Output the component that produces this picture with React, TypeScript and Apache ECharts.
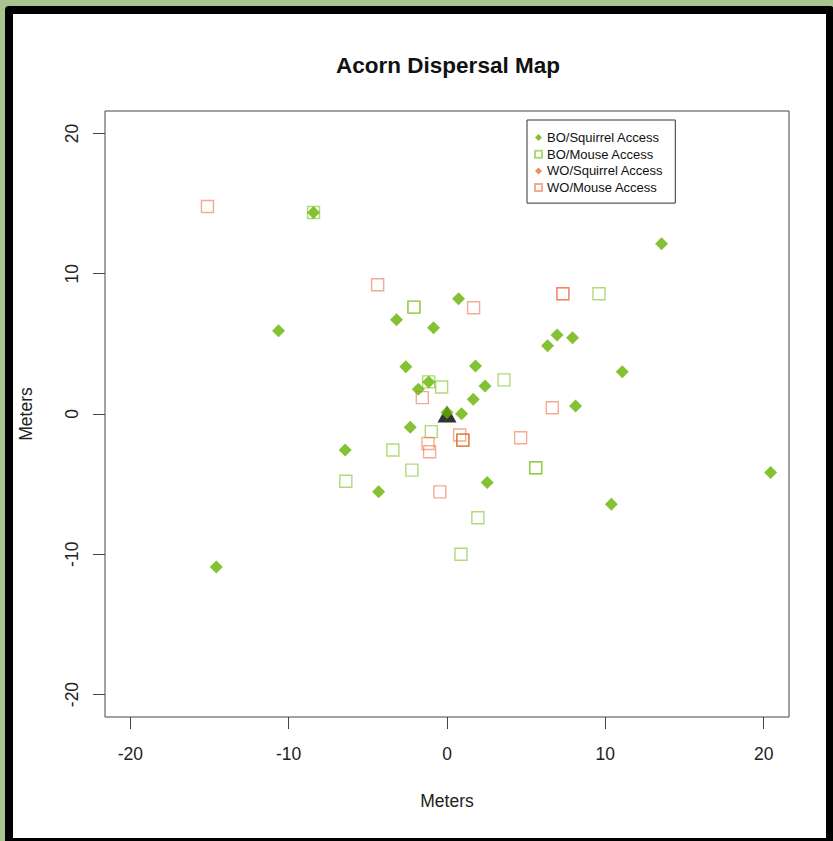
import React, { useEffect, useRef } from "react";
import * as echarts from "echarts";

const xTicks = [-20, -10, 0, 10, 20];
const yTicks = [-20, -10, 0, 10, 20];
const seriesNames = ["BO/Squirrel Access", "BO/Mouse Access", "WO/Squirrel Access", "WO/Mouse Access"];

const boSquirrel: [number, number][] = [
  [-8.43, 14.36], [-10.64, 5.93], [-3.19, 6.71], [-0.85, 6.14], [0.73, 8.21],
  [13.55, 12.14], [6.95, 5.64], [7.93, 5.43], [6.35, 4.86], [11.07, 3.02],
  [8.12, 0.57], [-2.6, 3.36], [1.8, 3.43], [2.4, 2.0], [1.66, 1.05],
  [-1.81, 1.76], [-1.16, 2.29], [0.0, 0.1], [0.92, 0.02], [-2.32, -0.95],
  [-6.43, -2.57], [-4.32, -5.55], [2.54, -4.88], [10.38, -6.43], [20.44, -4.17],
  [-14.57, -10.9],
];
const boMouse: [number, number][] = [
  [-8.43, 14.36], [-2.09, 7.62], [-2.09, 7.62], [9.6, 8.57], [3.6, 2.43],
  [-1.16, 2.29], [-0.34, 1.93], [-0.99, -1.26], [-3.42, -2.57], [-2.22, -4.0],
  [-6.39, -4.79], [5.6, -3.83], [5.6, -3.83], [1.95, -7.4], [0.88, -10.0],
  [1.0, -1.86],
];
const woSquirrel: [number, number][] = [];
const woMouse: [number, number][] = [
  [-15.13, 14.79], [-4.38, 9.21], [1.68, 7.57], [7.32, 8.57], [7.32, 8.57],
  [-1.56, 1.17], [6.65, 0.45], [4.65, -1.69], [0.8, -1.5], [1.0, -1.86],
  [1.0, -1.86], [-1.2, -2.1], [-1.1, -2.69], [-0.45, -5.55],
];
const originPoint: [number, number][] = [[0, 0]];

const FONT = "'Liberation Sans', Arial, Helvetica, sans-serif";

export default function App() {
  const ref = useRef<HTMLDivElement>(null);
  useEffect(() => {
    if (!ref.current) return;
    const chart = echarts.init(ref.current, null, { renderer: "svg" });
    chart.setOption({
      animation: false,
      backgroundColor: "transparent",
      title: {
        text: "Acorn Dispersal Map",
        left: 443,
        textAlign: "center",
        top: 49,
        textStyle: { fontFamily: FONT, fontSize: 22.5, fontWeight: "bold", color: "#111" },
      },
      grid: {
        left: 105,
        top: 111,
        width: 684,
        height: 606,
        show: true,
        borderColor: "#444",
        borderWidth: 1,
        backgroundColor: "transparent",
      },
      legend: {
        orient: "vertical",
        left: 527,
        top: 120,
        data: seriesNames,
        itemWidth: 7,
        itemHeight: 7,
        itemGap: 3.7,
        padding: [11, 12, 9, 7],
        borderColor: "#333",
        borderWidth: 1,
        textStyle: { fontFamily: FONT, fontSize: 13, color: "#111" },
      },
      xAxis: {
        type: "value",
        min: -21.6,
        max: 21.6,
        name: "Meters",
        nameLocation: "middle",
        nameGap: 75,
        nameTextStyle: { fontFamily: FONT, fontSize: 17.5, color: "#222" },
        axisLine: { show: false, onZero: false },
        axisTick: { show: true, length: 12, customValues: xTicks, lineStyle: { color: "#444" } },
        axisLabel: { customValues: xTicks, margin: 28, fontFamily: FONT, fontSize: 17.5, color: "#222" },
        splitLine: { show: false },
      },
      yAxis: {
        type: "value",
        min: -21.6,
        max: 21.6,
        name: "Meters",
        nameLocation: "middle",
        nameGap: 70,
        nameTextStyle: { fontFamily: FONT, fontSize: 17.5, color: "#222" },
        axisLine: { show: false, onZero: false },
        axisTick: { show: true, length: 12, customValues: yTicks, lineStyle: { color: "#444" } },
        axisLabel: { customValues: yTicks, rotate: 90, margin: 24, fontFamily: FONT, fontSize: 17.5, color: "#222" },
        splitLine: { show: false },
      },
      series: [
        {
          name: "origin",
          type: "scatter",
          data: originPoint,
          symbol: "triangle",
          symbolSize: [19, 17],
          itemStyle: { color: "#000" },
          z: 1,
        },
        {
          name: seriesNames[1],
          type: "scatter",
          data: boMouse,
          symbol: "rect",
          symbolSize: 12,
          itemStyle: { color: "transparent", borderColor: "#7cc21c", borderWidth: 1.4, opacity: 0.6 },
          z: 2,
        },
        {
          name: seriesNames[3],
          type: "scatter",
          data: woMouse,
          symbol: "rect",
          symbolSize: 12,
          itemStyle: { color: "transparent", borderColor: "#f0643a", borderWidth: 1.4, opacity: 0.55 },
          z: 3,
        },
        {
          name: seriesNames[2],
          type: "scatter",
          data: woSquirrel,
          symbol: "diamond",
          symbolSize: 13,
          itemStyle: { color: "#f07030" },
          z: 4,
        },
        {
          name: seriesNames[0],
          type: "scatter",
          data: boSquirrel,
          symbol: "diamond",
          symbolSize: 13,
          itemStyle: { color: "#66b300" },
          z: 5,
        },
      ],
    });
    return () => chart.dispose();
  }, []);

  return (
    <div style={{ position: "fixed", left: 0, top: 0, width: 833, height: 841, background: "#a9c48f", overflow: "hidden" }}>
      <div
        style={{
          position: "absolute",
          left: 5,
          top: 6,
          width: 829,
          height: 840,
          boxSizing: "border-box",
          border: "8px solid #000",
          borderRadius: 4,
          background: "#fff",
        }}
      />
      <div ref={ref} style={{ position: "absolute", left: 0, top: 0, width: 833, height: 841 }} />
    </div>
  );
}
